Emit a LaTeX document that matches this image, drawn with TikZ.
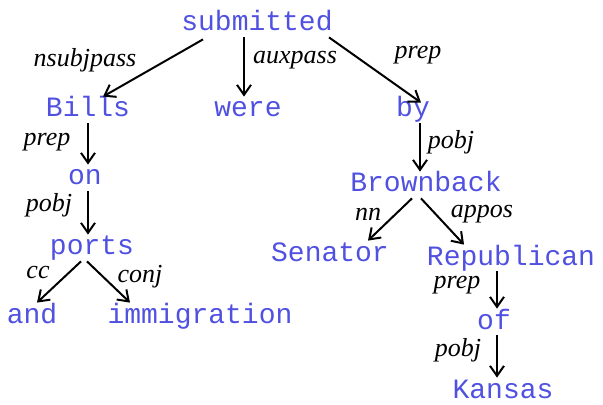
\documentclass[tikz,border=0pt]{standalone}
\usepackage{fontspec}
\setmainfont{Liberation Serif}
\setmonofont{Liberation Mono}
\usepackage{xcolor}
\definecolor{wordblue}{RGB}{80,80,225}
\usetikzlibrary{arrows.meta, positioning}

\begin{document}
\begin{tikzpicture}[x=0.5pt, y=-0.5pt,
    word/.style={font=\fontsize{14}{16}\selectfont\ttfamily, text=wordblue, inner sep=1pt, text height=9pt, text depth=2pt},
    lbl/.style={font=\fontsize{13}{15}\selectfont\itshape, inner sep=0pt},
    dep/.style={-{Straight Barb[length=5pt, width=7pt]}, line width=1pt}]
  \useasboundingbox (0,0) rectangle (603,405);

  % words of the sentence
  \node[word] (sub) at (257,24) {submitted};
  \node[word] (bills) at (88,110) {Bills};
  \node[word] (were) at (248,110) {were};
  \node[word] (by) at (413,110) {by};
  \node[word] (on) at (85,178) {on};
  \node[word] (ports) at (92,248) {ports};
  \node[word] (and) at (32,316) {and};
  \node[word] (imm) at (200,316) {immigration};
  \node[word] (brown) at (426,185) {Brownback};
  \node[word] (sen) at (330,254) {Senator};
  \node[word] (rep) at (511,258) {Republican};
  \node[word] (of) at (494,322) {of};
  \node[word] (kan) at (503,391) {Kansas};

  % dependency arcs
  \draw[dep] ([xshift=-27pt, yshift=-1pt]sub.south) -- ([xshift=7.5pt]bills.north);
  \draw[dep] ([xshift=-2pt]sub.south -| were.north) -- ([xshift=-2pt]were.north);
  \draw[dep] ([xshift=36pt]sub.south) -- ([xshift=4pt, yshift=-3pt]by.north);
  \draw[dep] (bills.south) -- (bills.south |- on.north);
  \draw[dep] (bills.south |- on.south) -- (bills.south |- ports.north);
  \draw[dep] ([xshift=-5.5pt]ports.south) -- ([xshift=2.5pt]and.north);
  \draw[dep] ([xshift=-2.5pt]ports.south) -- ([xshift=-35pt]imm.north);
  \draw[dep] ([xshift=3.5pt]by.south) -- ([xshift=3.5pt]by.south |- brown.north);
  \draw[dep] ([xshift=-7pt]brown.south) -- ([xshift=19pt]sen.north);
  \draw[dep] ([xshift=-2.5pt]brown.south) -- ([xshift=-23.5pt]rep.north);
  \draw[dep] ([xshift=1.5pt]of.north |- rep.south) -- ([xshift=1.5pt]of.north);
  \draw[dep] ([xshift=1.5pt]of.south) -- ([xshift=1.5pt]of.south |- kan.north);

  % relation labels
  \node[lbl] (l-nsubjpass) at (85,60) {nsubjpass};
  \node[lbl] (l-auxpass) at (295,60) {auxpass};
  \node[lbl] (l-prep1) at (418,55) {prep};
  \node[lbl] (l-prep2) at (47,142) {prep};
  \node[lbl] (l-pobj1) at (49,205) {pobj};
  \node[lbl] (l-cc) at (38,273) {cc};
  \node[lbl] (l-conj) at (140,277) {conj};
  \node[lbl] (l-pobj2) at (451,142) {pobj};
  \node[lbl] (l-nn) at (368,214) {nn};
  \node[lbl] (l-appos) at (482,214) {appos};
  \node[lbl] (l-prep3) at (457,285) {prep};
  \node[lbl] (l-pobj3) at (458,350) {pobj};
\end{tikzpicture}
\end{document}
